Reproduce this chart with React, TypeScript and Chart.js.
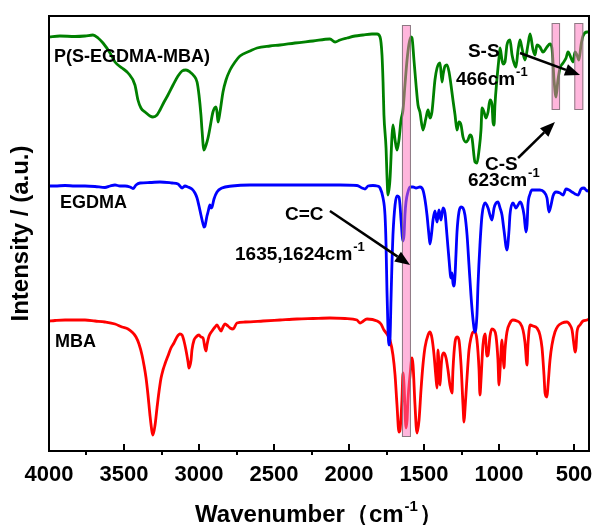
import React, { useEffect, useRef } from "react";
import { Chart, registerables } from "chart.js";

Chart.register(...registerables);

// ---------- data (wavenumber in cm^-1, intensity in arbitrary units) ----------
const xTickValues = [4000, 3500, 3000, 2500, 2000, 1500, 1000, 500];
const xMinorTickValues = [3750, 3250, 2750, 2250, 1750, 1250, 750];
const xRange = [400, 4000];
const yRange = [0, 435];

const seriesNames = ["P(S-EGDMA-MBA)", "EGDMA", "MBA"];
const seriesColors = ["rgb(0,128,0)", "rgb(0,0,255)", "rgb(255,0,0)"];

const pSegdmaMba: number[][] = [
  [4000, 414], [3927, 415], [3827, 414.5], [3760, 415], [3707, 416], [3673, 413], [3640, 408], [3593, 398],
  [3560, 389], [3513, 383], [3473, 378], [3427, 366], [3407, 351], [3387, 343], [3360, 339], [3327, 335],
  [3307, 334], [3280, 336], [3260, 341], [3233, 349], [3207, 356], [3173, 366], [3140, 375], [3113, 380],
  [3087, 381], [3060, 379], [3033, 375], [3013, 369], [3000, 356], [2987, 336], [2980, 321], [2967, 301],
  [2953, 306], [2940, 313], [2927, 323], [2907, 339], [2887, 344], [2880, 339], [2873, 329], [2860, 339],
  [2840, 359], [2820, 371], [2793, 381], [2760, 389], [2727, 395], [2660, 400], [2613, 403], [2527, 405],
  [2460, 406], [2360, 408], [2240, 410], [2127, 412], [2093, 409], [2060, 411], [2013, 413], [1960, 415],
  [1907, 416], [1847, 417], [1813, 417], [1793, 414], [1780, 396], [1773, 369], [1767, 336], [1753, 303],
  [1747, 276], [1740, 256], [1727, 271], [1713, 316], [1707, 326], [1693, 311], [1680, 301], [1667, 311],
  [1653, 331], [1640, 341], [1627, 366], [1613, 391], [1600, 407], [1587, 414], [1580, 413], [1567, 391],
  [1553, 366], [1540, 346], [1527, 339], [1507, 321], [1487, 333], [1473, 341], [1460, 333], [1447, 339],
  [1427, 371], [1413, 383], [1393, 388], [1380, 369], [1373, 376], [1360, 385], [1347, 386], [1333, 379],
  [1320, 366], [1307, 351], [1293, 336], [1280, 321], [1267, 329], [1253, 326], [1240, 314], [1220, 309],
  [1207, 311], [1193, 316], [1180, 313], [1160, 289], [1147, 288], [1133, 301], [1120, 321], [1113, 343],
  [1100, 339], [1087, 333], [1073, 339], [1060, 351], [1047, 347], [1040, 329], [1033, 326], [1027, 346],
  [1013, 373], [1000, 393], [993, 403], [980, 391], [973, 387], [960, 389], [947, 406], [927, 411],
  [913, 396], [900, 388], [887, 384], [873, 401], [860, 411], [847, 403], [827, 391], [807, 406],
  [793, 417], [773, 401], [760, 396], [747, 406], [727, 404], [707, 399], [680, 404], [660, 407],
  [647, 403], [633, 371], [620, 354], [607, 371], [593, 383], [573, 388], [553, 393], [540, 399],
  [520, 393], [507, 389], [493, 399], [480, 396], [467, 391], [453, 406], [440, 415], [413, 419], [400, 419],
];

const egdma: number[][] = [
  [4000, 265], [3960, 265], [3893, 265.5], [3827, 265], [3760, 265], [3693, 264.5], [3627, 263.5], [3593, 265],
  [3560, 266], [3527, 265], [3493, 265], [3460, 264], [3440, 262.5], [3420, 266], [3393, 268], [3327, 268.5],
  [3260, 269], [3180, 268], [3140, 267], [3113, 263], [3093, 265], [3073, 264], [3047, 262], [3027, 258],
  [3013, 253], [3000, 245], [2987, 236], [2973, 227], [2967, 224], [2960, 225], [2947, 235], [2940, 239],
  [2927, 246], [2920, 243], [2913, 244], [2900, 252], [2880, 259], [2847, 263], [2780, 265], [2660, 266],
  [2327, 266], [2060, 266], [1947, 265.5], [1913, 263], [1893, 262], [1873, 265], [1840, 265.5], [1813, 265],
  [1793, 263], [1773, 253], [1760, 236], [1753, 206], [1747, 161], [1740, 121], [1733, 106], [1727, 111],
  [1720, 151], [1713, 191], [1707, 216], [1693, 246], [1680, 255], [1667, 254], [1660, 246], [1653, 231],
  [1640, 210], [1633, 216], [1627, 236], [1620, 249], [1607, 259], [1593, 264], [1573, 264], [1553, 263],
  [1527, 264], [1507, 261], [1493, 251], [1480, 236], [1467, 216], [1460, 207], [1447, 221], [1440, 231],
  [1427, 240], [1413, 229], [1400, 241], [1387, 231], [1373, 243], [1360, 238], [1347, 216], [1333, 191],
  [1320, 173], [1313, 178], [1307, 168], [1300, 165], [1293, 176], [1287, 196], [1280, 219], [1267, 239],
  [1253, 244], [1240, 243], [1227, 236], [1213, 216], [1200, 186], [1187, 156], [1173, 131], [1160, 119],
  [1147, 136], [1140, 166], [1127, 206], [1113, 236], [1093, 248], [1073, 243], [1060, 236], [1047, 231],
  [1033, 243], [1020, 248], [1007, 249], [993, 243], [980, 236], [967, 221], [947, 201], [933, 221],
  [927, 236], [907, 248], [887, 243], [873, 246], [860, 249], [847, 246], [833, 236], [820, 219],
  [813, 226], [807, 246], [793, 257], [780, 261], [753, 261], [727, 261], [700, 259], [680, 253],
  [667, 239], [653, 246], [640, 255], [620, 259], [593, 258], [573, 256], [553, 262], [533, 261],
  [513, 259], [493, 257], [473, 256], [453, 262], [433, 263], [413, 260], [400, 261],
];

const mba: number[][] = [
  [4000, 130], [3960, 130.5], [3893, 131], [3760, 131], [3693, 130], [3627, 129], [3560, 127], [3513, 124],
  [3473, 122], [3447, 119], [3420, 114], [3400, 107], [3380, 96], [3367, 86], [3353, 73], [3340, 56],
  [3327, 36], [3313, 19], [3307, 16], [3293, 26], [3280, 43], [3267, 59], [3253, 73], [3240, 81],
  [3227, 87], [3207, 95], [3187, 103], [3167, 108], [3147, 114], [3127, 117], [3113, 116], [3100, 110],
  [3087, 101], [3073, 89], [3067, 83], [3053, 91], [3047, 101], [3033, 111], [3020, 114], [3000, 116],
  [2987, 114], [2973, 113], [2960, 103], [2953, 100], [2947, 106], [2933, 115], [2913, 120], [2893, 124],
  [2880, 126], [2867, 123], [2853, 120], [2840, 124], [2827, 127], [2807, 125], [2793, 123], [2773, 122],
  [2747, 128], [2693, 129], [2573, 130], [2460, 131], [2347, 132], [2240, 132.5], [2127, 133], [2027, 132.5],
  [1947, 131], [1927, 128], [1913, 129], [1880, 132], [1813, 130], [1787, 127], [1767, 121], [1747, 117],
  [1727, 111], [1707, 96], [1693, 76], [1680, 46], [1667, 19], [1660, 21], [1647, 51], [1640, 78],
  [1633, 66], [1620, 23], [1613, 31], [1607, 51], [1593, 76], [1580, 93], [1573, 86], [1560, 46],
  [1547, 18], [1533, 31], [1520, 61], [1507, 86], [1493, 104], [1473, 116], [1460, 119], [1447, 113],
  [1433, 96], [1420, 73], [1413, 63], [1407, 101], [1393, 66], [1387, 81], [1380, 94], [1367, 98],
  [1353, 93], [1340, 81], [1327, 66], [1313, 58], [1307, 81], [1293, 109], [1280, 114], [1267, 111],
  [1253, 86], [1240, 46], [1233, 29], [1227, 41], [1213, 74], [1200, 101], [1187, 113], [1173, 119],
  [1160, 119], [1147, 111], [1133, 81], [1127, 56], [1120, 71], [1107, 106], [1093, 117], [1080, 95],
  [1073, 96], [1060, 115], [1047, 122], [1033, 121], [1020, 115], [1007, 91], [1000, 66], [993, 81],
  [980, 111], [973, 96], [967, 83], [960, 101], [947, 119], [927, 128], [907, 131], [880, 130],
  [860, 128], [840, 121], [827, 109], [813, 86], [807, 106], [793, 126], [773, 125], [747, 123],
  [727, 116], [713, 103], [700, 76], [693, 58], [680, 54], [673, 66], [660, 91], [647, 106],
  [627, 119], [607, 125], [580, 128], [547, 129], [527, 126], [513, 121], [500, 106], [493, 99],
  [487, 103], [480, 119], [460, 126], [440, 130], [413, 131], [400, 132],
];

const seriesData = [pSegdmaMba, egdma, mba];

// highlighted bands: [wavenumber from, wavenumber to, intensity low, intensity high]
const highlightBands = [
  [1647, 1587, 14, 426],
  [649, 593, 341, 428],
  [498, 438, 341, 428],
];

// series labels: [text, wavenumber (left), intensity (middle)]
const seriesLabels: [string, number, number][] = [
  ["P(S-EGDMA-MBA)", 3967, 394],
  ["EGDMA", 3927, 248],
  ["MBA", 3960, 109],
];

// peak labels: [text, superscript, wavenumber (left), intensity (middle)]
const peakLabels: [string, string, number, number][] = [
  ["C=C", "", 2427, 236],
  ["1635,1624cm", "-1", 2760, 196],
  ["S-S", "", 1207, 399],
  ["466cm", "-1", 1287, 371],
  ["C-S", "", 1093, 286],
  ["623cm", "-1", 1207, 270],
];

// arrows: [from wn, from intensity, to wn, to intensity]
const peakArrows = [
  [2127, 240, 1593, 186],
  [860, 398, 460, 376],
  [873, 293, 627, 329],
];

const xTitle = ["Wavenumber（cm", "-1", "）"];
const yTitle = "Intensity / (a.u.)";

const FONT = '"Liberation Sans", Arial, Helvetica, sans-serif';

const overlayPlugin = {
  id: "overlay",
  afterDatasetsDraw(chart: any) {
    const { ctx, chartArea: ca, scales } = chart;
    const xs = scales.x;
    const ys = scales.y;
    ctx.save();

    // pink highlight bands
    for (const [w1, w2, i1, i2] of highlightBands) {
      const xa = xs.getPixelForValue(w1);
      const xb = xs.getPixelForValue(w2);
      const ya = ys.getPixelForValue(i2);
      const yb = ys.getPixelForValue(i1);
      ctx.fillStyle = "rgba(255, 110, 185, 0.5)";
      ctx.fillRect(xa, ya, xb - xa, yb - ya);
      ctx.strokeStyle = "rgba(120, 110, 115, 0.85)";
      ctx.lineWidth = 1;
      ctx.strokeRect(xa + 0.5, ya + 0.5, xb - xa - 1, yb - ya - 1);
    }

    // frame
    ctx.strokeStyle = "#000";
    ctx.lineWidth = 2;
    ctx.strokeRect(ca.left, ca.top, ca.right - ca.left, ca.bottom - ca.top);

    // ticks: major inward, minor outward
    ctx.lineWidth = 2;
    for (const v of xTickValues) {
      const px = Math.round(xs.getPixelForValue(v));
      ctx.beginPath();
      ctx.moveTo(px, ca.bottom);
      ctx.lineTo(px, ca.bottom - 7);
      ctx.stroke();
    }
    for (const v of xMinorTickValues) {
      const px = Math.round(xs.getPixelForValue(v));
      ctx.beginPath();
      ctx.moveTo(px, ca.bottom);
      ctx.lineTo(px, ca.bottom + 4);
      ctx.stroke();
    }

    ctx.fillStyle = "#000";
    ctx.textBaseline = "middle";
    ctx.textAlign = "left";

    // series labels
    ctx.font = `bold 18px ${FONT}`;
    for (const [t, w, i] of seriesLabels) {
      ctx.fillText(t, xs.getPixelForValue(w), ys.getPixelForValue(i));
    }

    // peak labels with superscripts
    for (const [t, sup, w, i] of peakLabels) {
      const px = xs.getPixelForValue(w);
      const py = ys.getPixelForValue(i);
      ctx.font = `bold 19px ${FONT}`;
      ctx.fillText(t, px, py);
      if (sup) {
        const tw = ctx.measureText(t).width;
        ctx.font = `bold 13px ${FONT}`;
        ctx.fillText(sup, px + tw + 1, py - 8);
      }
    }

    // arrows
    ctx.strokeStyle = "#000";
    ctx.fillStyle = "#000";
    for (const [w1, i1, w2, i2] of peakArrows) {
      const x1 = xs.getPixelForValue(w1);
      const y1 = ys.getPixelForValue(i1);
      const x2 = xs.getPixelForValue(w2);
      const y2 = ys.getPixelForValue(i2);
      const ang = Math.atan2(y2 - y1, x2 - x1);
      const hl = 15;
      const hw = 6;
      const bx = x2 - hl * Math.cos(ang);
      const by = y2 - hl * Math.sin(ang);
      ctx.lineWidth = 2.5;
      ctx.beginPath();
      ctx.moveTo(x1, y1);
      ctx.lineTo(bx, by);
      ctx.stroke();
      ctx.beginPath();
      ctx.moveTo(x2, y2);
      ctx.lineTo(bx + hw * Math.sin(ang), by - hw * Math.cos(ang));
      ctx.lineTo(bx - hw * Math.sin(ang), by + hw * Math.cos(ang));
      ctx.closePath();
      ctx.fill();
    }

    // x axis title with superscript
    const cx = (ca.left + ca.right) / 2;
    const baseY = 522;
    ctx.textBaseline = "alphabetic";
    ctx.font = `bold 24px ${FONT}`;
    const w1 = ctx.measureText(xTitle[0]).width;
    const w3 = ctx.measureText(xTitle[2]).width;
    ctx.font = `bold 15px ${FONT}`;
    const w2 = ctx.measureText(xTitle[1]).width;
    let sx = cx - (w1 + w2 + w3 + 2) / 2;
    ctx.font = `bold 24px ${FONT}`;
    ctx.fillText(xTitle[0], sx, baseY);
    sx += w1 + 1;
    ctx.font = `bold 15px ${FONT}`;
    ctx.fillText(xTitle[1], sx, baseY - 11);
    sx += w2 + 1;
    ctx.font = `bold 24px ${FONT}`;
    ctx.fillText(xTitle[2], sx, baseY);

    ctx.restore();
  },
};

export default function App() {
  const canvasRef = useRef<HTMLCanvasElement | null>(null);

  useEffect(() => {
    const canvas = canvasRef.current;
    if (!canvas) return;
    const chart = new Chart(canvas, {
      type: "line",
      data: {
        datasets: seriesData.map((d, k) => ({
          label: seriesNames[k],
          data: d.map(([x, y]) => ({ x, y })),
          borderColor: seriesColors[k],
          backgroundColor: seriesColors[k],
          borderWidth: 2.8,
          pointRadius: 0,
          fill: false,
          cubicInterpolationMode: "monotone" as const,
        })),
      },
      options: {
        responsive: false,
        animation: false,
        devicePixelRatio: 1,
        layout: { padding: { top: 16, right: 5, left: 0, bottom: 0 } },
        plugins: { legend: { display: false }, tooltip: { enabled: false } },
        scales: {
          x: {
            type: "linear",
            reverse: true,
            min: xRange[0],
            max: xRange[1],
            grid: { display: false },
            border: { display: false },
            afterBuildTicks: (scale: any) => {
              scale.ticks = xTickValues.map((v) => ({ value: v }));
            },
            afterFit: (scale: any) => {
              scale.height = 74;
              scale.paddingLeft = 0;
              scale.paddingRight = 0;
            },
            ticks: {
              autoSkip: false,
              maxRotation: 0,
              padding: 3,
              color: "#000",
              font: { family: FONT, size: 22, weight: "bold" },
              callback: (v: any) => String(v),
            },
          },
          y: {
            type: "linear",
            min: yRange[0],
            max: yRange[1],
            grid: { display: false },
            border: { display: false },
            ticks: { display: false },
            afterFit: (scale: any) => {
              scale.width = 49;
              scale.paddingTop = 0;
              scale.paddingBottom = 0;
            },
            title: {
              display: true,
              text: yTitle,
              color: "#000",
              font: { family: FONT, size: 24, weight: "bold" },
              padding: { top: 7, bottom: 0 },
            },
          },
        },
      },
      plugins: [overlayPlugin],
    });
    return () => chart.destroy();
  }, []);

  return (
    <div style={{ position: "absolute", left: 0, top: 0, width: 594, height: 525, background: "#fff" }}>
      <canvas ref={canvasRef} width={594} height={525} style={{ display: "block", width: 594, height: 525 }} />
    </div>
  );
}
